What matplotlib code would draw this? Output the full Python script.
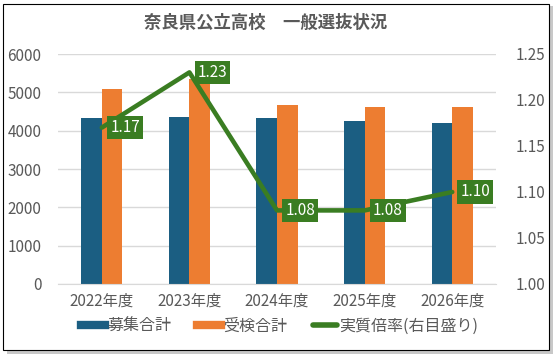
import numpy as np
import matplotlib.pyplot as plt
from matplotlib.lines import Line2D
from matplotlib.patches import Rectangle

plt.rcParams['font.family'] = ['Noto Sans CJK JP', 'DejaVu Sans']

years = ['2022年度', '2023年度', '2024年度', '2025年度', '2026年度']
boshu = [4340, 4345, 4325, 4260, 4200]
juken = [5090, 5345, 4675, 4630, 4630]
bairitsu = [1.17, 1.23, 1.08, 1.08, 1.10]

c_blue = '#1b5e82'
c_orange = '#ed7d31'
c_green = '#3a7d22'
c_text = '#595959'

fig = plt.figure(figsize=(5.6, 3.63), dpi=100)
# frame with shadow
fig.patches.append(Rectangle((0.012, 0.025), 0.975, 0.958, transform=fig.transFigure,
                             facecolor='#c8c8c8', edgecolor='none', zorder=-2))
fig.patches.append(Rectangle((0.006, 0.035), 0.975, 0.955, transform=fig.transFigure,
                             facecolor='white', edgecolor='black', lw=0.8, zorder=-1))

ax = fig.add_axes([58/560, 1-284/363, (496-58)/560, (284-54)/363])
ax2 = ax.twinx()
ax.patch.set_visible(False)
ax2.patch.set_visible(False)

x = np.arange(len(years))
w = 0.235
ax.bar(x - w/2, boshu, w, color=c_blue, zorder=2)
ax.bar(x + w/2, juken, w, color=c_orange, zorder=2)
ax.set_ylim(0, 6000)
ax.set_yticks(np.arange(0, 6001, 1000))
ax.set_xlim(-0.5, 4.5)
ax.set_xticks(x)
ax.set_xticklabels(years)
ax.yaxis.grid(True, color='#d9d9d9', lw=1)
ax.set_axisbelow(True)
for a in (ax, ax2):
    for s in a.spines.values():
        s.set_visible(False)
    a.tick_params(length=0, labelsize=11, colors=c_text)
ax.spines['bottom'].set_visible(True)
ax.spines['bottom'].set_color('#d9d9d9')
ax.tick_params(axis='y', pad=12)
ax.tick_params(axis='x', pad=6)

ax2.plot(x, bairitsu, color=c_green, lw=3.3, zorder=3, solid_capstyle='round')
ax2.set_ylim(1.0, 1.25)
ax2.set_yticks(np.arange(1.0, 1.2501, 0.05))
ax2.set_yticklabels(['%.2f' % v for v in np.arange(1.0, 1.2501, 0.05)])
ax2.tick_params(axis='y', pad=14)
for xi, v in zip(x, bairitsu):
    ax2.annotate('%.2f' % v, (xi, v), xytext=(6, 0), textcoords='offset points',
                 ha='left', va='center', color='white', fontsize=11,
                 bbox=dict(boxstyle='square,pad=0.2', fc=c_green, ec='none'), zorder=4)

fig.text(0.475, 1-23/363, '奈良県公立高校　一般選抜状況', ha='center', va='center',
         fontsize=12.5, color=c_text, fontweight='bold')

handles = [Line2D([], [], color=c_blue, lw=6),
           Line2D([], [], color=c_orange, lw=6),
           Line2D([], [], color=c_green, lw=4, solid_capstyle='round')]
labels = ['募集合計', '受検合計', '実質倍率(右目盛り)']
fig.legend(handles, labels, loc='center', bbox_to_anchor=(0.5, 1-326/363), ncol=3,
           frameon=False, fontsize=11.5, labelcolor=c_text, handlelength=1.5,
           handletextpad=0.15, columnspacing=1.6)

plt.savefig('out.png', dpi=100)
